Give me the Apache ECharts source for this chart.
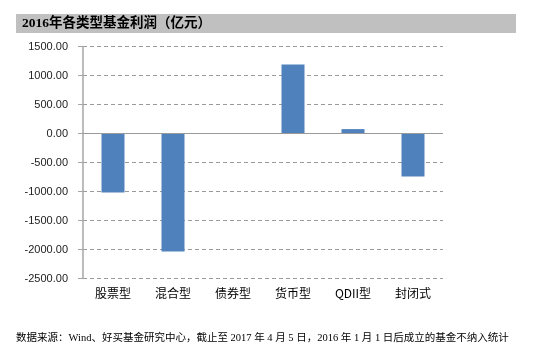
<!DOCTYPE html>
<html><head><meta charset="utf-8">
<script src="https://cdn.jsdelivr.net/npm/echarts@6/dist/echarts.min.js"></script>
<style>html,body{margin:0;padding:0;background:#fff}#c{width:550px;height:360px}</style>
</head><body><div id="c"></div>
<script>
const categories = ['股票型', '混合型', '债券型', '货币型', 'QDII型', '封闭式'];
const profits = [-1017, -2034, 0, 1190, 76, -741];
const yMin = -2500, yMax = 1500, yStep = 500;
const titleText = '2016年各类型基金利润（亿元）';
const noteText = '数据来源：Wind、好买基金研究中心，截止至 2017 年 4 月 5 日，2016 年 1 月 1 日后成立的基金不纳入统计';

const chart = echarts.init(document.getElementById('c'), null, {renderer: 'canvas'});
chart.setOption({
  animation: false,
  backgroundColor: '#fff',
  graphic: [
    {type: 'rect', left: 16, top: 14, shape: {width: 500, height: 19}, style: {fill: '#c0c0c0'}, z: 0},
    {type: 'text', left: 22, top: 16.5, z: 1, style: {text: titleText, font: 'bold 13.5px "Liberation Serif", "Noto Sans CJK SC"', fill: '#000'}},
    {type: 'text', left: 16, top: 333, z: 1, style: {text: noteText, font: '10.5px "Liberation Serif", "Noto Sans CJK SC"', fill: '#000'}}
  ],
  grid: {left: 83, right: 107, top: 46.5, bottom: 81.5, containLabel: false},
  xAxis: {
    type: 'category', data: categories,
    axisLine: {show: false, onZero: false},
    axisTick: {show: false},
    axisLabel: {fontFamily: '"Noto Sans CJK SC"', fontSize: 12, color: '#000', margin: 9}
  },
  yAxis: {
    type: 'value', min: yMin, max: yMax, interval: yStep,
    axisLine: {show: true, lineStyle: {color: '#a6a6a6', width: 1.5}},
    axisTick: {show: true, length: 5, lineStyle: {color: '#a6a6a6'}},
    axisLabel: {formatter: v => v.toFixed(2), fontFamily: '"Liberation Sans", "Noto Sans"', fontSize: 11, color: '#222', margin: 15},
    splitLine: {show: true, lineStyle: {color: '#9a9a9a', type: [4, 3], width: 1}}
  },
  series: [{
    type: 'bar', data: profits, barWidth: 23,
    itemStyle: {color: '#4f81bd'},
    markLine: {
      silent: true, symbol: 'none', label: {show: false},
      lineStyle: {color: '#9a9a9a', type: 'solid', width: 1},
      data: [{yAxis: 0}]
    }
  }]
});
</script></body></html>
